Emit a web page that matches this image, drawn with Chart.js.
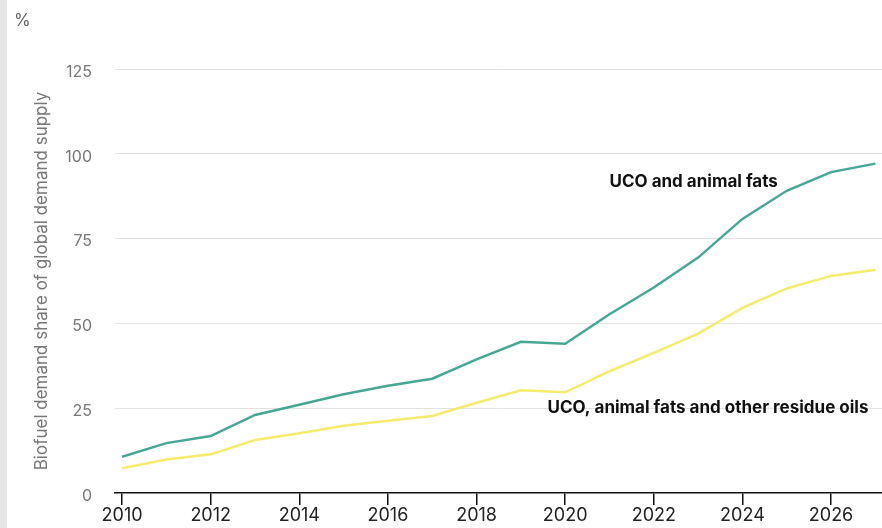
<!DOCTYPE html>
<html>
<head>
<meta charset="utf-8">
<script src="https://cdn.jsdelivr.net/npm/chart.js@4"></script>
<style>
  html, body { margin: 0; padding: 0; background: #fff; }
  #wrap { position: relative; width: 882px; height: 528px; }
  canvas { display: block; }
</style>
</head>
<body>
<div id="wrap"><canvas id="c" width="882" height="528"></canvas></div>
<script>
const years = [2010, 2011, 2012, 2013, 2014, 2015, 2016, 2017, 2018, 2019, 2020, 2021, 2022, 2023, 2024, 2025, 2026, 2027];
const ucoAnimalFats = [10.7, 14.7, 16.8, 23.0, 26.0, 29.1, 31.6, 33.7, 39.4, 44.6, 44.0, 52.7, 60.6, 69.4, 80.8, 89.1, 94.6, 97.1];
const ucoAnimalFatsResidue = [7.3, 9.9, 11.4, 15.6, 17.6, 19.8, 21.3, 22.7, 26.6, 30.3, 29.7, 35.9, 41.3, 47.0, 54.6, 60.3, 64.0, 65.8];
const xTickValues = [2010, 2012, 2014, 2016, 2018, 2020, 2022, 2024, 2026];
const yTickValues = [0, 25, 50, 75, 100, 125];
const seriesNames = ['UCO and animal fats', 'UCO, animal fats and other residue oils'];
const yAxisTitle = 'Biofuel demand share of global demand supply';
const unitLabel = '%';
const labelAnchors = [{x: 2021.0, y: 91.7}, {x: 2019.6, y: 25.0}];

const FONT = 'Inter, "Noto Sans", sans-serif';
const TEAL = '#46a795';
const YELLOW = '#f6ec6b';

const decor = {
  id: 'decor',
  beforeDraw(chart) {
    const ctx = chart.ctx;
    ctx.save();
    ctx.fillStyle = '#ffffff';
    ctx.fillRect(0, 0, chart.width, chart.height);
    ctx.fillStyle = '#e6e6e6';
    ctx.fillRect(0, 0, 7, chart.height);
    ctx.restore();
  },
  afterDraw(chart) {
    const ctx = chart.ctx;
    const xs = chart.scales.x, ys = chart.scales.y;
    ctx.save();
    ctx.fillStyle = '#666666';
    ctx.font = '17px ' + FONT;
    ctx.textAlign = 'left';
    ctx.textBaseline = 'middle';
    ctx.fillText(unitLabel, 14, 21);
    ctx.fillStyle = '#111111';
    ctx.font = 'bold 17px ' + FONT;
    seriesNames.forEach((name, i) => {
      ctx.fillText(name, xs.getPixelForValue(labelAnchors[i].x), ys.getPixelForValue(labelAnchors[i].y));
    });
    ctx.restore();
  }
};

new Chart(document.getElementById('c'), {
  type: 'line',
  data: {
    datasets: [
      {
        label: seriesNames[0],
        data: years.map((y, i) => ({x: y, y: ucoAnimalFats[i]})),
        borderColor: TEAL,
        borderWidth: 2.5,
        pointRadius: 0,
        tension: 0,
        fill: false
      },
      {
        label: seriesNames[1],
        data: years.map((y, i) => ({x: y, y: ucoAnimalFatsResidue[i]})),
        borderColor: YELLOW,
        borderWidth: 2.5,
        pointRadius: 0,
        tension: 0,
        fill: false
      }
    ]
  },
  options: {
    responsive: false,
    animation: false,
    devicePixelRatio: 1,
    layout: { padding: { top: 69, left: 0, right: 0, bottom: 0 } },
    plugins: { legend: { display: false }, tooltip: { enabled: false } },
    scales: {
      x: {
        type: 'linear',
        min: 2009.84,
        max: 2027.15,
        afterBuildTicks(scale) { scale.ticks = xTickValues.map(v => ({value: v})); },
        afterFit(scale) { scale.height = 35; },
        border: { display: true, color: '#111111', width: 1.5 },
        grid: { drawOnChartArea: false, drawTicks: true, tickLength: 12, color: '#111111', lineWidth: 1.5 },
        ticks: { color: '#222222', font: { family: FONT, size: 18 }, padding: 0, maxRotation: 0, autoSkip: false,
                 callback: v => String(v) }
      },
      y: {
        type: 'linear',
        min: 0,
        max: 125,
        afterBuildTicks(scale) { scale.ticks = yTickValues.map(v => ({value: v})); },
        afterFit(scale) { scale.width = 115; },
        border: { display: false },
        grid: { drawTicks: false, color: ctx => (ctx.tick && ctx.tick.value === 0) ? 'rgba(0,0,0,0)' : '#e2e2e2', lineWidth: 1 },
        ticks: { color: '#777777', font: { family: FONT, size: 16 }, padding: 23, labelOffset: 3 },
        title: { display: true, text: yAxisTitle, color: '#777777', font: { family: FONT, size: 17 }, padding: { top: 32, bottom: 0 } }
      }
    }
  },
  plugins: [decor]
});
</script>
</body>
</html>
